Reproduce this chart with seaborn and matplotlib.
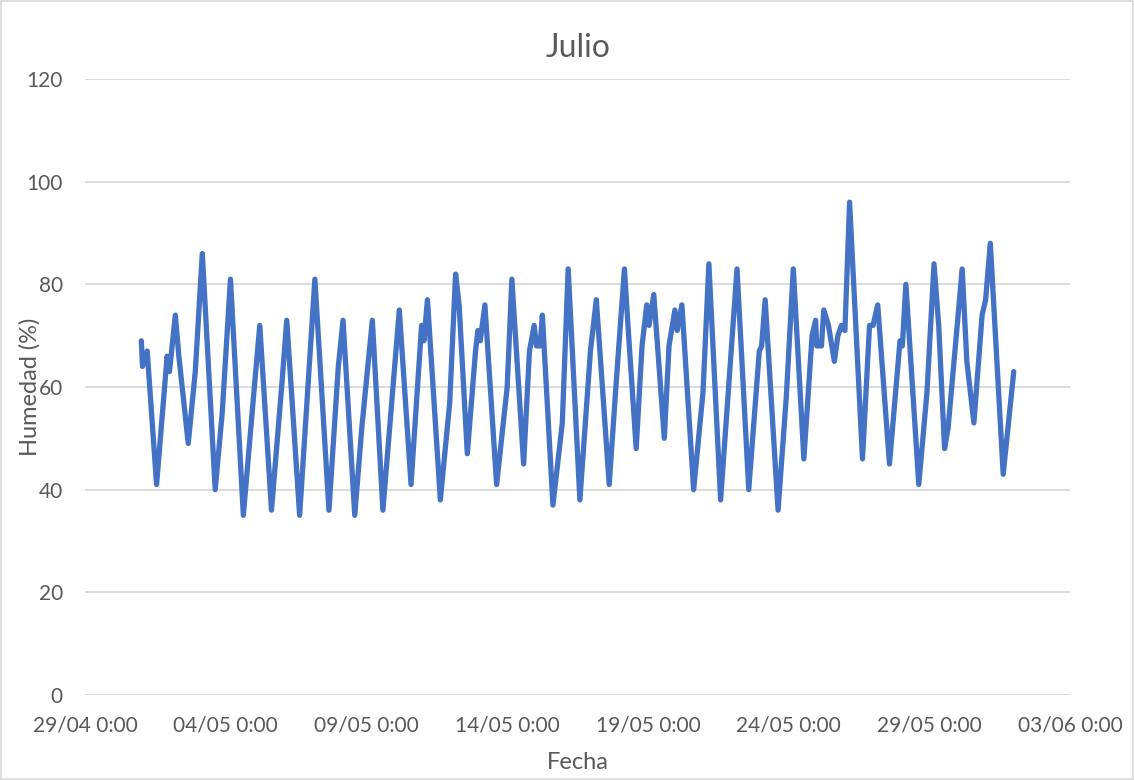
import matplotlib
matplotlib.use("Agg")
import matplotlib.pyplot as plt
import matplotlib.ticker as mticker
import matplotlib.dates as mdates
from matplotlib.patches import Rectangle
import seaborn as sns
import pandas as pd

# ----------------------------
# Data: hours after 01/05 0:00 and relative humidity (%)
# ----------------------------
hours = [0, 1, 5, 13, 22, 24, 29, 32, 40, 46, 52, 63, 69, 76, 87, 96, 101, 111,
         120, 124, 135, 148, 160, 168, 172, 182, 188, 197, 206, 220, 230, 239,
         241, 244, 255, 263, 268, 271, 278, 285, 287, 289, 293, 303, 312, 316,
         326, 331, 335, 337, 340, 342, 351, 359, 364, 374, 383, 388, 399, 405,
         412, 415, 422, 427, 431, 433, 437, 446, 450, 455, 457, 461, 471, 479,
         484, 494, 508, 518, 527, 529, 532, 543, 550, 556, 565, 572, 575, 576,
         580, 582, 586, 591, 594, 597, 600, 604, 615, 621, 624, 628, 638, 647,
         649, 652, 663, 670, 676, 680, 685, 688, 695, 700, 704, 710, 717, 720,
         724, 735, 744]
humidity = [69, 64, 67, 41, 66, 63, 74, 66, 49, 63, 86, 40, 55, 81, 35, 59, 72, 36,
            61, 73, 35, 81, 36, 64, 73, 35, 52, 73, 36, 75, 41, 72,
            69, 77, 38, 57, 82, 76, 47, 67, 71, 69, 76, 41, 60, 81,
            45, 67, 72, 68, 68, 74, 37, 53, 83, 38, 67, 77, 41, 61,
            83, 72, 48, 68, 76, 72, 78, 50, 68, 75, 71, 76, 40, 59,
            84, 38, 83, 40, 67, 68, 77, 36, 58, 83, 46, 70, 73, 68,
            68, 75, 72, 65, 70, 72, 71, 96, 46, 72, 72, 76, 45, 69,
            68, 80, 41, 59, 84, 72, 48, 52, 70, 83, 65, 53, 74, 77,
            88, 43, 63]

start = pd.Timestamp("2021-05-01 00:00")
df = pd.DataFrame({
    "Fecha": start + pd.to_timedelta(hours, unit="h"),
    "Humedad": humidity,
})

x_ticks = pd.date_range("2021-04-29", "2021-06-03", freq="5D")
y_ticks = [0, 20, 40, 60, 80, 100, 120]

sns.set_theme(style="white")
plt.rcParams["font.family"] = ["Lato", "DejaVu Sans"]

grey = "#595959"
fig = plt.figure(figsize=(11.34, 7.8), dpi=100)
ax = fig.add_axes([0.075, 0.109, 0.8686, 0.7897])

sns.lineplot(data=df, x="Fecha", y="Humedad", ax=ax, color="#4472C4", linewidth=3.8,
             solid_joinstyle="round", solid_capstyle="round")

ax.set_xlim(x_ticks[0], x_ticks[-1])
ax.set_ylim(0, 120)
ax.set_xticks(x_ticks)
ax.set_yticks(y_ticks)
ax.xaxis.set_major_formatter(mticker.FuncFormatter(
    lambda v, pos: (lambda d: f"{d:%d/%m} {d.hour}:{d:%M}")(mdates.num2date(v))))

ax.grid(axis="y", color="#D9D9D9", linewidth=1.3)
ax.set_axisbelow(True)
for s in ax.spines.values():
    s.set_visible(False)
ax.tick_params(axis="both", length=0, labelsize=15, labelcolor=grey)
ax.tick_params(axis="y", pad=16)
ax.tick_params(axis="x", pad=15)

ax.set_title("Julio", fontsize=23, color=grey, pad=16)
ax.set_xlabel("Fecha", fontsize=17, color=grey)
ax.set_ylabel("Humedad (%)", fontsize=17, color=grey)
ax.xaxis.set_label_coords(0.5, -0.092)
ax.yaxis.set_label_coords(-0.045, 0.5)

fig.patches.append(Rectangle((0.001, 0.001), 0.998, 0.998, transform=fig.transFigure,
                             fill=False, edgecolor="#D9D9D9", linewidth=1.2))

fig.savefig("out.png", dpi=100)
